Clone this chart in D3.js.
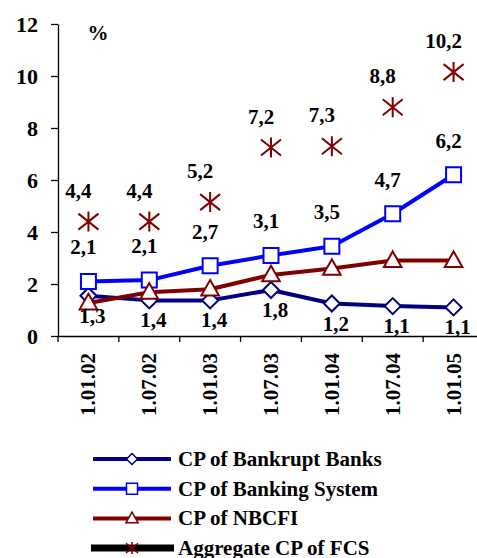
<!DOCTYPE html>
<html>
<head>
<meta charset="utf-8">
<script src="https://cdn.jsdelivr.net/npm/d3@7"></script>
<style>
  body { margin: 0; background: #fff; }
</style>
</head>
<body>
<div id="chart"></div>
<script>
// categories (dates)
var dates = ["1.01.02", "1.07.02", "1.01.03", "1.07.03", "1.01.04", "1.07.04", "1.01.05"];

// series values
var bankrupt = [1.55, 1.37, 1.37, 1.77, 1.25, 1.15, 1.1];
var banking = [2.1, 2.15, 2.7, 3.1, 3.45, 4.7, 6.2];
var nbcfi = [1.27, 1.68, 1.8, 2.35, 2.6, 2.9, 2.9];
var aggregate = [4.4, 4.4, 5.15, 7.25, 7.3, 8.8, 10.15];

// data labels as printed
var bankruptLabels = ["1,3", "1,4", "1,4", "1,8", "1,2", "1,1", "1,1"];
var bankingLabels = ["2,1", "2,1", "2,7", "3,1", "3,5", "4,7", "6,2"];
var nbcfiLabels = [null, null, null, null, "2,6", "2,9", "2,9"];
var aggregateLabels = ["4,4", "4,4", "5,2", "7,2", "7,3", "8,8", "10,2"];

var yTicks = [0, 2, 4, 6, 8, 10, 12];
var legendNames = ["CP of Bankrupt Banks", "CP of Banking System", "CP of NBCFI", "Aggregate CP of FCS"];

var width = 477, height = 558;
var serif = '"Liberation Serif", "Times New Roman", serif';

var svg = d3.select("#chart").append("svg")
    .attr("width", width)
    .attr("height", height)
    .style("font-family", serif)
    .style("font-weight", "bold");

var x = d3.scaleBand().domain(dates).range([58, 484]);
var y = d3.scaleLinear().domain([0, 12]).range([336, 24]);
var cx = d => x(d) + x.bandwidth() / 2;

// y axis
var yAxis = svg.append("g")
    .attr("transform", "translate(58,0)")
    .call(d3.axisLeft(y).tickValues(yTicks).tickSize(7).tickSizeOuter(0).tickPadding(13));
yAxis.attr("font-family", null).attr("font-size", null);
yAxis.select(".domain").attr("stroke", "#000").attr("stroke-width", 1.3);
yAxis.selectAll(".tick line").attr("stroke", "#000").attr("stroke-width", 1.3);
yAxis.selectAll(".tick text")
    .attr("fill", "#000")
    .style("font-family", serif)
    .style("font-weight", "bold")
    .style("font-size", "22px");

// x axis: line, ticks between categories, rotated labels
var xAxis = svg.append("g")
    .attr("transform", "translate(0,336)")
    .call(d3.axisBottom(x).tickSize(0).tickSizeOuter(0).tickFormat(""));
xAxis.select(".domain").attr("stroke", "#000").attr("stroke-width", 1.3);

svg.append("g").selectAll("line")
    .data(dates)
    .join("line")
    .attr("x1", d => x(d)).attr("x2", d => x(d))
    .attr("y1", 336).attr("y2", 342)
    .attr("stroke", "#000").attr("stroke-width", 1.3);

svg.append("g").selectAll("text")
    .data(dates)
    .join("text")
    .attr("transform", d => `translate(${cx(d) + 7},353) rotate(-90)`)
    .attr("text-anchor", "end")
    .style("font-size", "21px")
    .text(d => d);

// unit label
svg.append("text")
    .attr("x", 98).attr("y", 40)
    .attr("text-anchor", "middle")
    .style("font-size", "21px")
    .text("%");

var line = d3.line()
    .x((d, i) => cx(dates[i]))
    .y(d => y(d));

var series = [
    { values: bankrupt, color: "#000080", marker: "diamond" },
    { values: banking, color: "#0000ff", marker: "square" },
    { values: nbcfi, color: "#800000", marker: "triangle" }
];

function markerPath(type, s) {
    if (type === "diamond") return `M0,${-s}L${s},0L0,${s}L${-s},0Z`;
    if (type === "square") return `M${-s},${-s}H${s}V${s}H${-s}Z`;
    if (type === "triangle") return `M0,${-s * 1.15}L${s * 1.1},${s * 0.8}H${-s * 1.1}Z`;
    // star: X plus vertical stroke
    return `M0,${-s}V${s}M${-s},${-s * 0.8}L${s},${s * 0.8}M${-s},${s * 0.8}L${s},${-s * 0.8}`;
}
var markerSize = { diamond: 8, square: 7.5, triangle: 8, star: 10 };

series.forEach(function (sr) {
    svg.append("path")
        .datum(sr.values)
        .attr("fill", "none")
        .attr("stroke", sr.color)
        .attr("stroke-width", 4)
        .attr("stroke-linejoin", "round")
        .attr("d", line);
});
series.forEach(function (sr) {
    svg.append("g").selectAll("path")
        .data(sr.values)
        .join("path")
        .attr("transform", (d, i) => `translate(${cx(dates[i])},${y(d)})`)
        .attr("d", markerPath(sr.marker, markerSize[sr.marker]))
        .attr("fill", "#fff")
        .attr("stroke", sr.color)
        .attr("stroke-width", 2);
});

// aggregate: markers only
svg.append("g").selectAll("path")
    .data(aggregate)
    .join("path")
    .attr("transform", (d, i) => `translate(${cx(dates[i])},${y(d)})`)
    .attr("d", markerPath("star", markerSize.star))
    .attr("fill", "none")
    .attr("stroke", "#800000")
    .attr("stroke-width", 2);

// data labels
function addLabels(values, labels, dx, dy) {
    svg.append("g").selectAll("text")
        .data(values)
        .join("text")
        .filter((d, i) => labels[i] !== null)
        .attr("x", (d, i) => cx(dates[i]) + (typeof dx === "function" ? dx(i) : dx))
        .attr("y", (d, i) => y(d) + (typeof dy === "function" ? dy(i) : dy))
        .attr("text-anchor", "middle")
        .style("font-size", "21px")
        .text((d, i) => labels[i]);
}
addLabels(aggregate, aggregateLabels, -10, -24);
addLabels(banking, bankingLabels, -5, -27);
addLabels(bankrupt, bankruptLabels, 4, 27);
addLabels(nbcfi, nbcfiLabels, i => (i === 4 ? 18 : (i === 6 ? 4 : 19)), i => (i === 4 ? 25 : -10));

// legend
var legend = svg.append("g");
var legendItems = [
    { color: "#000080", marker: "diamond", lw: 4, x1: 93, x2: 171, mc: "#000080" },
    { color: "#0000ff", marker: "square", lw: 4, x1: 93, x2: 171, mc: "#0000ff" },
    { color: "#800000", marker: "triangle", lw: 4, x1: 93, x2: 171, mc: "#800000" },
    { color: "#000000", marker: "star", lw: 7, x1: 91, x2: 174, mc: "#800000" }
];
legendItems.forEach(function (it, i) {
    var ly = 459 + i * 29.7;
    legend.append("line")
        .attr("x1", it.x1).attr("x2", it.x2)
        .attr("y1", ly).attr("y2", ly)
        .attr("stroke", it.color).attr("stroke-width", it.lw);
    legend.append("path")
        .attr("transform", `translate(132,${ly})`)
        .attr("d", markerPath(it.marker, it.marker === "star" ? 6 : 5.5))
        .attr("fill", it.marker === "star" ? "none" : "#fff")
        .attr("stroke", it.mc)
        .attr("stroke-width", 1.5);
    legend.append("text")
        .attr("x", 178).attr("y", ly + 7)
        .style("font-size", "21px")
        .text(legendNames[i]);
});
</script>
</body>
</html>
